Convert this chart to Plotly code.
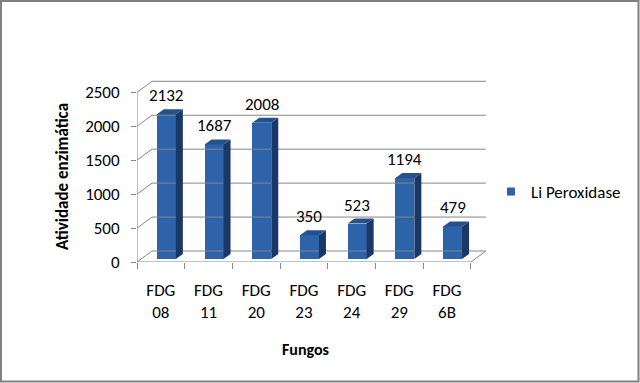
import plotly.graph_objects as go

categories = ["FDG 08", "FDG 11", "FDG 20", "FDG 23", "FDG 24", "FDG 29", "FDG 6B"]
values = [2132, 1687, 2008, 350, 523, 1194, 479]
y_ticks = [0, 500, 1000, 1500, 2000, 2500]
series_name = "Li Peroxidase"

W, H = 640, 383
# plot area in pixels
L, R, T, B = 137, 488, 80, 262
px_per_cat = 47.7
px_per_unit = 169.7 / 2500
xr = [0, (R - L) / px_per_cat]
yr = [0, (B - T) / px_per_unit]

dxw = 15 / px_per_cat          # back-wall depth (x)
dyw = 11 / px_per_unit         # back-wall depth (y)
dxb = 7 / px_per_cat           # bar depth (x)
dyb = 5 / px_per_unit          # bar depth (y)
bshift = 5.5 / px_per_cat      # bar shift back
b0 = 3 / px_per_unit           # bar base
bw = 19 / px_per_cat           # bar width

grid_col = "#868686"
front_col = "#2D63A9"
side_col = "#1A3767"
top_col = "#24528F"
FONT = "Carlito, Calibri, Lato, sans-serif"
FS = 17

n = len(categories)
fig = go.Figure()

# back wall gridlines + left wall diagonals
gx, gy = [], []
for v in y_ticks:
    gx += [0, dxw, n + dxw, None]
    gy += [v, v + dyw, v + dyw, None]
# floor right edge
gx += [n, n + dxw, None]
gy += [0, dyw, None]
fig.add_trace(go.Scatter(x=gx, y=gy, mode="lines", line=dict(color=grid_col, width=1),
                         hoverinfo="skip", showlegend=False))
# front axis lines
fig.add_trace(go.Scatter(x=[0, 0, None, 0, n], y=[y_ticks[-1], 0, None, 0, 0], mode="lines",
                         line=dict(color=grid_col, width=1), hoverinfo="skip", showlegend=False))

xc = [i + 0.5 + bshift for i in range(n)]
fig.add_trace(go.Bar(x=xc, y=values, base=b0, width=bw, marker=dict(color=front_col, line=dict(width=0)),
                     showlegend=False, hoverinfo="skip"))

sx, sy, tx, ty = [], [], [], []
for c, v in zip(xc, values):
    l, r = c - bw / 2, c + bw / 2
    top = b0 + v
    sx += [r, r + dxb, r + dxb, r, r, None]
    sy += [b0, b0 + dyb, top + dyb, top, b0, None]
    tx += [l, l + dxb, r + dxb, r, l, None]
    ty += [top, top + dyb, top + dyb, top, top, None]
fig.add_trace(go.Scatter(x=sx, y=sy, mode="lines", fill="toself", fillcolor=side_col,
                         line=dict(width=0, color=side_col), hoverinfo="skip", showlegend=False))
fig.add_trace(go.Scatter(x=tx, y=ty, mode="lines", fill="toself", fillcolor=top_col,
                         line=dict(width=0, color=top_col), hoverinfo="skip", showlegend=False))

# legend entry
fig.add_trace(go.Scatter(x=[None], y=[None], mode="markers", name=series_name,
                         marker=dict(symbol="square", size=8, color=front_col)))

# data labels
for c, v in zip(xc, values):
    fig.add_annotation(x=c, y=b0 + v + dyb, text=str(v), showarrow=False, xanchor="center",
                       yanchor="bottom", yshift=1, font=dict(family=FONT, size=FS, color="#000"))

def px2paper_x(px):
    return (px - L) / (R - L)

def px2paper_y(py):
    return (B - py) / (B - T)

fig.add_annotation(x=px2paper_x(62), y=px2paper_y(177), xref="paper", yref="paper",
                   text="<b>Atividade enzimática</b>", textangle=-90, showarrow=False,
                   xanchor="center", yanchor="middle", font=dict(family=FONT, size=17, color="#000"))
fig.add_annotation(x=px2paper_x(305), y=px2paper_y(349), xref="paper", yref="paper",
                   text="<b>Fungos</b>", showarrow=False,
                   xanchor="center", yanchor="middle", font=dict(family=FONT, size=16, color="#000"))

# outer border
fig.add_shape(type="rect", xref="paper", yref="paper",
              x0=px2paper_x(1), x1=px2paper_x(638.5), y0=px2paper_y(381.5), y1=px2paper_y(1),
              line=dict(color="#808080", width=2), fillcolor="rgba(0,0,0,0)", layer="below")

fig.update_layout(
    width=W, height=H,
    margin=dict(l=L, r=W - R, t=T, b=H - B, pad=0),
    paper_bgcolor="white", plot_bgcolor="white",
    font=dict(family=FONT, size=FS, color="#000"),
    xaxis=dict(range=xr, tickvals=[i + 0.5 for i in range(n)],
               ticktext=[c.replace(" ", "<br>") for c in categories],
               ticks="", showline=False, showgrid=False, zeroline=False,
               ticklabelstandoff=16, fixedrange=True),
    xaxis2=dict(range=xr, overlaying="x", side="bottom", tickvals=list(range(n + 1)),
                showticklabels=False, ticks="outside", ticklen=6, tickcolor=grid_col,
                showline=False, showgrid=False, zeroline=False, matches="x"),
    yaxis=dict(range=yr, tickvals=y_ticks, ticks="outside", ticklen=5, tickcolor=grid_col,
               showline=False, showgrid=False, zeroline=False, ticklabelstandoff=8),
    legend=dict(x=px2paper_x(491), y=px2paper_y(192), xanchor="left", yanchor="middle",
                font=dict(family=FONT, size=FS, color="#000"), bgcolor="rgba(0,0,0,0)"),
    bargap=0,
)
# dummy trace to show xaxis2 ticks
fig.add_trace(go.Scatter(x=[None], y=[None], xaxis="x2", showlegend=False, hoverinfo="skip"))

fig.write_html("out.html")
